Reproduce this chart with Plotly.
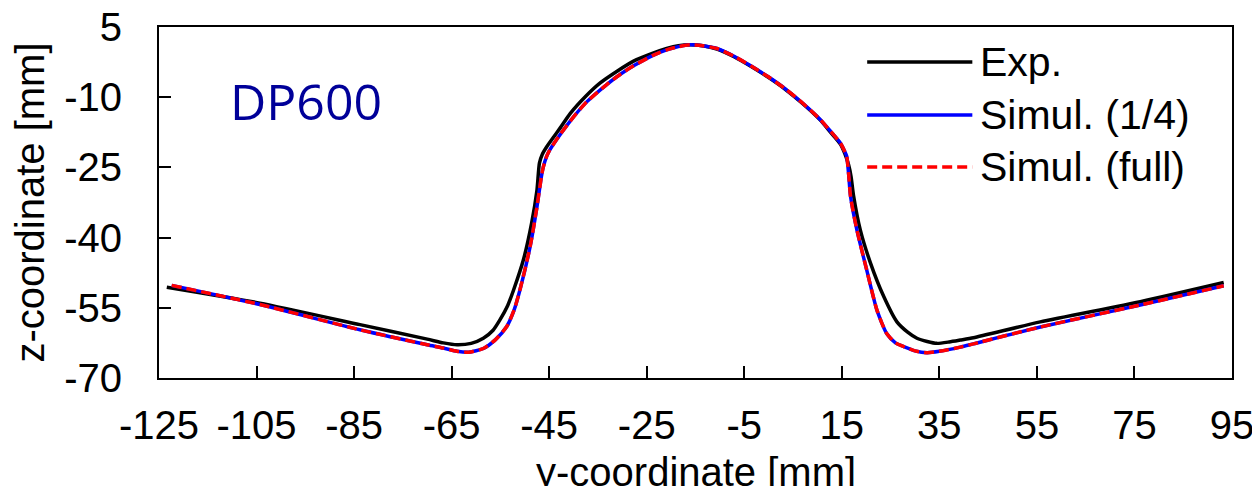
import plotly.graph_objects as go

# ---------------- data ----------------
exp_y = [-123.4, -104.3, -83.8, -70.0, -66.7, -63.9, -61.0, -58.5, -56.5, -55.1,
         -53.5, -52.3, -50.3, -48.6, -47.5, -47.0, -46.4, -45.5, -44.0, -42.7,
         -40.7, -37.5, -34.6, -31.0, -27.7, -24.0, -20.9, -18.5, -16.1, -13.5,
         -10.6, -7.0, -3.5, 0.0, 3.4, 7.0, 10.6, 12.7, 14.7, 15.6,
         16.4, 16.9, 17.4, 18.8, 20.9, 23.6, 26.3, 28.5, 30.4, 32.5,
         34.5, 37.0, 39.3, 42.0, 55.7, 76.2, 93.3]
exp_z = [-50.6, -54.0, -58.6, -61.7, -62.5, -62.9, -62.6, -61.5, -59.8, -57.6,
         -54.5, -51.2, -44.8, -36.9, -29.8, -24.1, -22.2, -20.6, -18.4, -16.5,
         -13.5, -9.8, -7.0, -4.4, -2.3, -0.7, 0.4, 1.0, 1.2, 1.0,
         0.3, -1.4, -3.5, -5.8, -8.3, -11.4, -14.9, -17.5, -20.0, -22.0,
         -24.5, -27.0, -31.0, -38.4, -45.5, -52.6, -58.0, -60.2, -61.5, -62.2,
         -62.6, -62.3, -61.9, -61.4, -58.0, -53.7, -49.6]

sim_quarter_y = [-122.4, -104.3, -83.8, -70.0, -66.7, -63.9, -61.5, -58.5, -56.0, -53.7,
                 -52.2, -51.0, -48.9, -47.5, -46.6, -46.2, -45.5, -44.9, -42.7, -40.0,
                 -37.3, -33.2, -30.4, -27.7, -23.6, -20.9, -18.5, -16.1, -13.5, -10.6,
                 -7.0, -3.5, 0.0, 3.4, 7.0, 10.6, 12.7, 14.7, 15.6, 16.0,
                 16.4, 16.8, 18.1, 20.1, 22.2, 24.2, 26.0, 27.7, 30.0, 32.5,
                 35.0, 39.3, 42.0, 55.7, 76.2, 93.3]
sim_quarter_z = [-50.2, -54.3, -59.7, -62.9, -63.6, -64.3, -64.5, -63.7, -61.8, -59.0,
                 -55.5, -51.2, -41.9, -33.4, -27.0, -24.9, -22.6, -21.3, -17.9, -14.2,
                 -11.0, -7.3, -5.1, -3.3, -1.0, 0.1, 0.8, 1.2, 1.0, 0.4,
                 -1.3, -3.4, -5.7, -8.2, -11.3, -14.8, -17.3, -19.8, -21.6, -22.6,
                 -26.5, -31.3, -38.4, -46.9, -55.5, -60.5, -62.5, -63.3, -64.2, -64.6,
                 -64.3, -63.4, -62.7, -59.1, -54.4, -50.3]

sim_full_y = list(sim_quarter_y)
sim_full_z = list(sim_quarter_z)

x_ticks = [-125, -105, -85, -65, -45, -25, -5, 15, 35, 55, 75, 95]
y_ticks = [5, -10, -25, -40, -55, -70]

legend_names = ["Exp.", "Simul. (1/4)", "Simul. (full)"]
legend_colors = ["black", "#0000FF", "#FF0000"]
legend_dash = ["solid", "solid", "10px,5px"]

FONT = "Liberation Sans, Arial, sans-serif"
FS = 40
LW = 3.5

fig = go.Figure()
fig.add_trace(go.Scatter(x=exp_y, y=exp_z, mode="lines", name=legend_names[0],
                         line=dict(color=legend_colors[0], width=LW, shape="spline", smoothing=0.6),
                         showlegend=False))
fig.add_trace(go.Scatter(x=sim_quarter_y, y=sim_quarter_z, mode="lines", name=legend_names[1],
                         line=dict(color=legend_colors[1], width=LW, shape="spline", smoothing=0.6),
                         showlegend=False))
fig.add_trace(go.Scatter(x=sim_full_y, y=sim_full_z, mode="lines", name=legend_names[2],
                         line=dict(color=legend_colors[2], width=LW, dash=legend_dash[2],
                                   shape="spline", smoothing=0.6),
                         showlegend=False))

# manual legend (long line samples like the reference)
rows_y = [0.900, 0.749, 0.601]
for name, col, dash, yy in zip(legend_names, legend_colors, legend_dash, rows_y):
    fig.add_shape(type="line", xref="paper", yref="paper", x0=0.660, x1=0.758, y0=yy, y1=yy,
                  line=dict(color=col, width=LW, dash=dash))
    fig.add_annotation(xref="paper", yref="paper", x=0.763, y=yy, text=name, showarrow=False,
                       xanchor="left", yanchor="middle",
                       font=dict(family=FONT, size=41, color="black"))

fig.add_annotation(xref="paper", yref="paper", x=0.137, y=0.79, text="DP600", showarrow=False,
                   xanchor="center", yanchor="middle",
                   font=dict(family="Open Sans, sans-serif", size=50, color="#000099"))

# x-axis title placed as an annotation (it sits partly below the window edge, as in the reference)
fig.add_annotation(xref="paper", yref="paper", x=0.5, y=0, yshift=-70, text="y-coordinate [mm]",
                   showarrow=False, xanchor="center", yanchor="top",
                   font=dict(family=FONT, size=FS, color="black"))

axis_common = dict(showline=True, mirror=True, linecolor="black", linewidth=2,
                   ticks="inside", ticklen=12, tickwidth=2, tickcolor="black",
                   showgrid=False, zeroline=False, ticklabeloverflow="allow",
                   tickfont=dict(family=FONT, size=FS, color="black"))

fig.update_xaxes(range=[-125, 95], tickvals=x_ticks, ticktext=[str(v) for v in x_ticks],
                 ticklabelstandoff=11, **axis_common)
fig.update_yaxes(range=[-70, 5], tickvals=y_ticks, ticktext=[str(v) for v in y_ticks],
                 ticklabelstandoff=27,
                 title=dict(text="z-coordinate [mm]", standoff=13,
                            font=dict(family=FONT, size=FS, color="black")),
                 **axis_common)

# page body has an 8px margin: shrink the figure so it fits the 1260x486 window
fig.update_layout(width=1252, height=478, margin=dict(l=151, r=28, t=19, b=108, autoexpand=False),
                  plot_bgcolor="white", paper_bgcolor="white", showlegend=False)

fig.write_html("out.html")
